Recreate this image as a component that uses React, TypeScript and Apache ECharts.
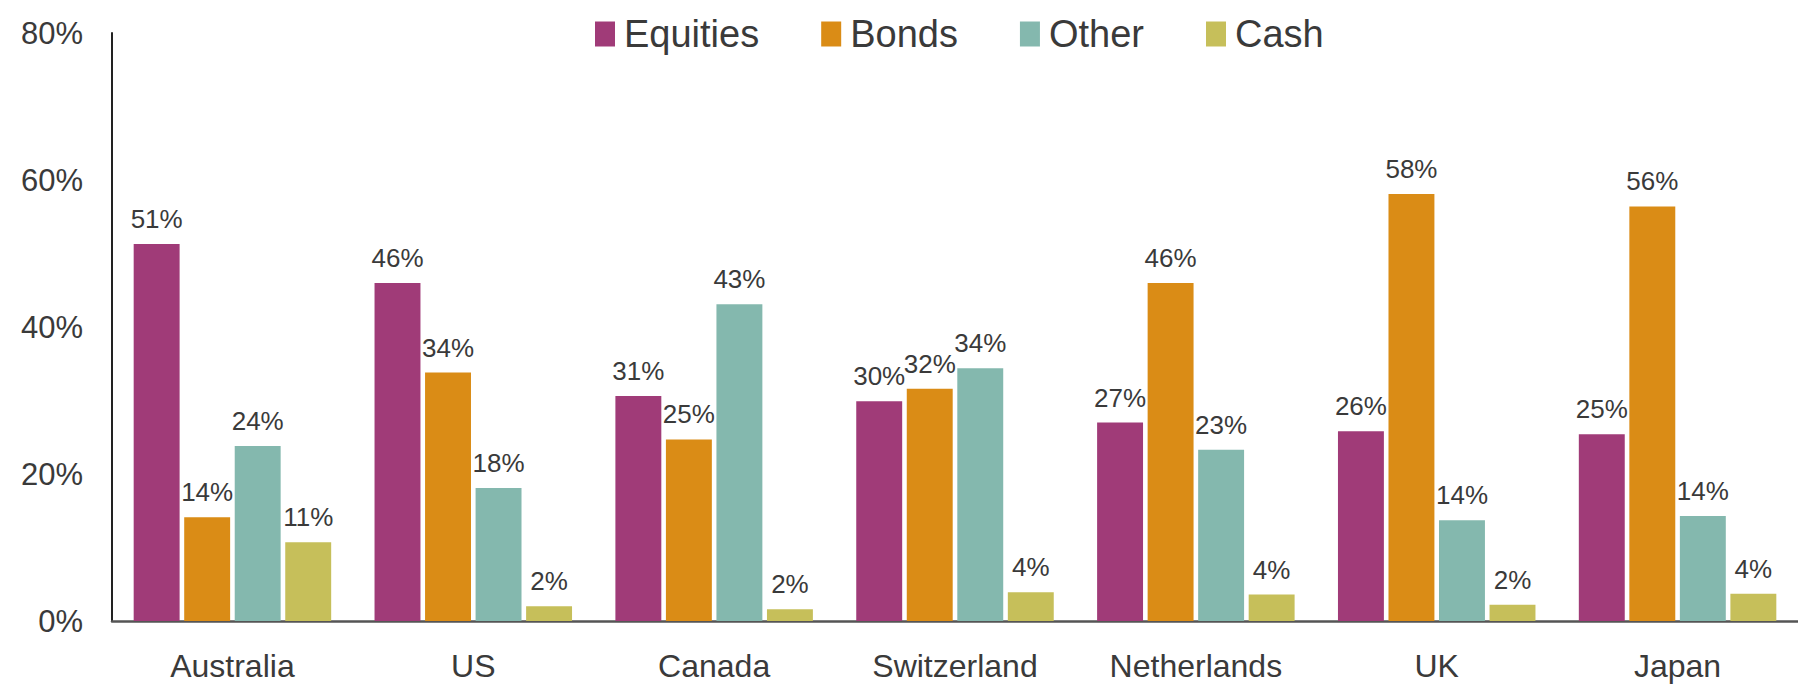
import React, { useEffect, useRef } from "react";
import * as echarts from "echarts";

const categories = ["Australia", "US", "Canada", "Switzerland", "Netherlands", "UK", "Japan"];
const equities = [51.3, 46.0, 30.6, 29.9, 27.0, 25.8, 25.4];
const bonds = [14.1, 33.8, 24.7, 31.6, 46.0, 58.1, 56.4];
const other = [23.8, 18.1, 43.1, 34.4, 23.3, 13.7, 14.3];
const cash = [10.7, 2.0, 1.6, 3.9, 3.6, 2.2, 3.7];
const yTicks = [0, 20, 40, 60, 80];

const seriesDefs = [
  { name: "Equities", data: equities, color: "#A03B78" },
  { name: "Bonds", data: bonds, color: "#DA8C16" },
  { name: "Other", data: other, color: "#84B8AE" },
  { name: "Cash", data: cash, color: "#C6BF5A" },
];

const FONT = "'Liberation Sans', Arial, Helvetica, sans-serif";
const TEXT = "#3a3a3a";

export default function App() {
  const ref = useRef<HTMLDivElement>(null);
  useEffect(() => {
    document.body.style.margin = "0";
    if (!ref.current) return;
    const chart = echarts.init(ref.current, undefined, { renderer: "svg" });
    chart.setOption({
      animation: false,
      backgroundColor: "#ffffff",
      textStyle: { fontFamily: FONT },
      legend: {
        left: 590,
        top: 10,
        itemWidth: 20,
        itemHeight: 25,
        itemGap: 62,
        icon: "rect",
        textStyle: { fontSize: 38, color: TEXT, fontFamily: FONT, padding: [0, 0, 0, 4] },
        data: seriesDefs.map((s) => s.name),
      },
      grid: { left: 112, right: 0, top: 33, bottom: 65, containLabel: false },
      xAxis: {
        type: "category",
        data: categories,
        axisLine: { show: true, lineStyle: { color: "#555555", width: 2.5 } },
        axisTick: { show: false },
        axisLabel: { fontSize: 32, color: TEXT, margin: 29, fontFamily: FONT },
      },
      yAxis: {
        type: "value",
        min: yTicks[0],
        max: yTicks[yTicks.length - 1],
        interval: yTicks[1] - yTicks[0],
        axisLine: { show: true, lineStyle: { color: "#222222", width: 2 } },
        axisTick: { show: false },
        splitLine: { show: false },
        axisLabel: { fontSize: 31, color: TEXT, margin: 29, formatter: "{value}%", fontFamily: FONT },
      },
      series: seriesDefs.map((s) => ({
        name: s.name,
        type: "bar",
        data: s.data,
        barCategoryGap: "18%",
        barGap: "10%",
        itemStyle: { color: s.color },
        label: {
          show: true,
          position: "top",
          distance: 12,
          fontSize: 26,
          color: TEXT,
          fontFamily: FONT,
          formatter: (p: any) => Math.round(p.value) + "%",
        },
      })),
    });
    return () => chart.dispose();
  }, []);
  return <div ref={ref} style={{ width: 1798, height: 686 }} />;
}
